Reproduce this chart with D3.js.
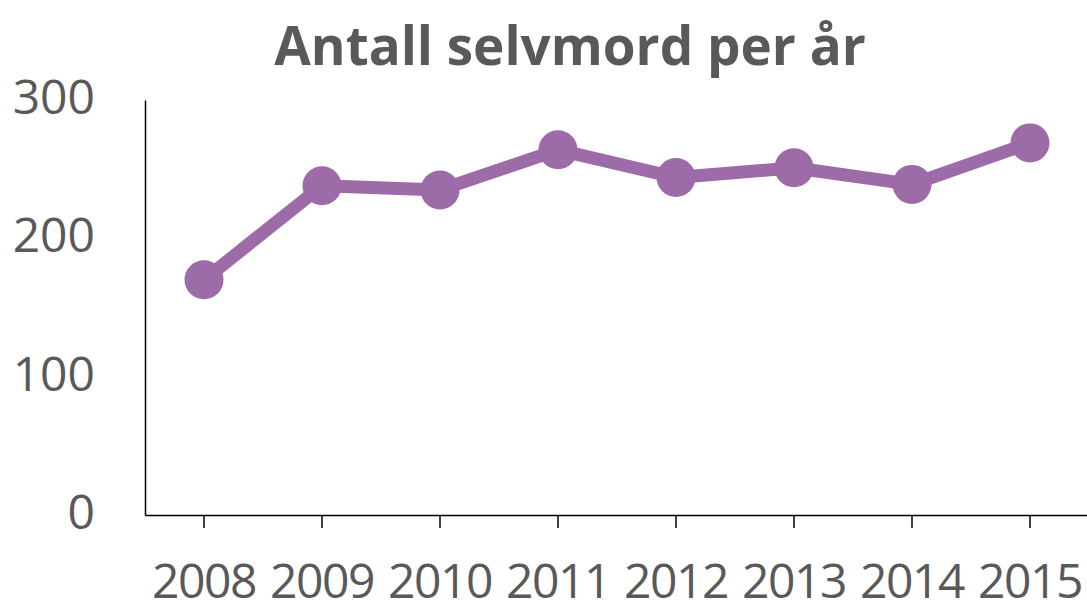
<!DOCTYPE html>
<html>
<head>
<meta charset="utf-8">
<title>Antall selvmord per år</title>
<script src="https://d3js.org/d3.v7.min.js"></script>
<style>
  body { margin: 0; background: #fff; }
  text { font-family: "Open Sans", sans-serif; fill: #595959; }
</style>
</head>
<body>
<svg width="1087" height="604"></svg>
<script>
// data
var years = ["2008", "2009", "2010", "2011", "2012", "2013", "2014", "2015"];
var counts = [170, 238, 235, 264, 244, 251, 239, 269];
var yTicks = [0, 100, 200, 300];

var svg = d3.select("svg"),
    width = +svg.attr("width"),
    height = +svg.attr("height");

var mLeft = 145, mRight = 1089, mTop = 100, mBottom = 515;
var purple = "#9d6ba7";

var x = d3.scaleBand().domain(years).range([mLeft, mRight]);
var y = d3.scaleLinear().domain([0, 300]).range([mBottom, mTop]);

// title
svg.append("text")
    .attr("x", 570)
    .attr("y", 65)
    .attr("text-anchor", "middle")
    .style("font-size", "53px")
    .style("font-weight", "bold")
    .text("Antall selvmord per år");

// y axis
var yAxis = svg.append("g")
    .attr("transform", "translate(" + mLeft + ",0)")
    .call(d3.axisLeft(y).tickValues(yTicks).tickSize(0).tickPadding(50));
yAxis.select(".domain").attr("stroke", "#000").attr("stroke-width", 1.5);
yAxis.selectAll("text")
    .style("font-size", "48px")
    .attr("fill", "#595959")
    .attr("dy", "0.28em");

// x axis
var xAxis = svg.append("g")
    .attr("transform", "translate(0," + mBottom + ")")
    .call(d3.axisBottom(x).tickSize(13).tickPadding(36).tickSizeOuter(0));
xAxis.select(".domain").attr("stroke", "#000").attr("stroke-width", 1.5);
xAxis.selectAll(".tick line").attr("stroke", "#000").attr("stroke-width", 1.5);
xAxis.selectAll("text")
    .style("font-size", "48px")
    .style("letter-spacing", "-1.5px")
    .attr("fill", "#595959");

var pts = years.map(function(d, i) { return {year: d, value: counts[i]}; });
var cx = function(d) { return x(d.year) + x.bandwidth() / 2; };

var line = d3.line()
    .x(cx)
    .y(function(d) { return y(d.value); });

svg.append("path")
    .datum(pts)
    .attr("fill", "none")
    .attr("stroke", purple)
    .attr("stroke-width", 13)
    .attr("stroke-linejoin", "round")
    .attr("d", line);

svg.selectAll(".dot")
    .data(pts)
    .enter().append("circle")
    .attr("class", "dot")
    .attr("cx", cx)
    .attr("cy", function(d) { return y(d.value); })
    .attr("r", 19.5)
    .attr("fill", purple);
</script>
</body>
</html>
